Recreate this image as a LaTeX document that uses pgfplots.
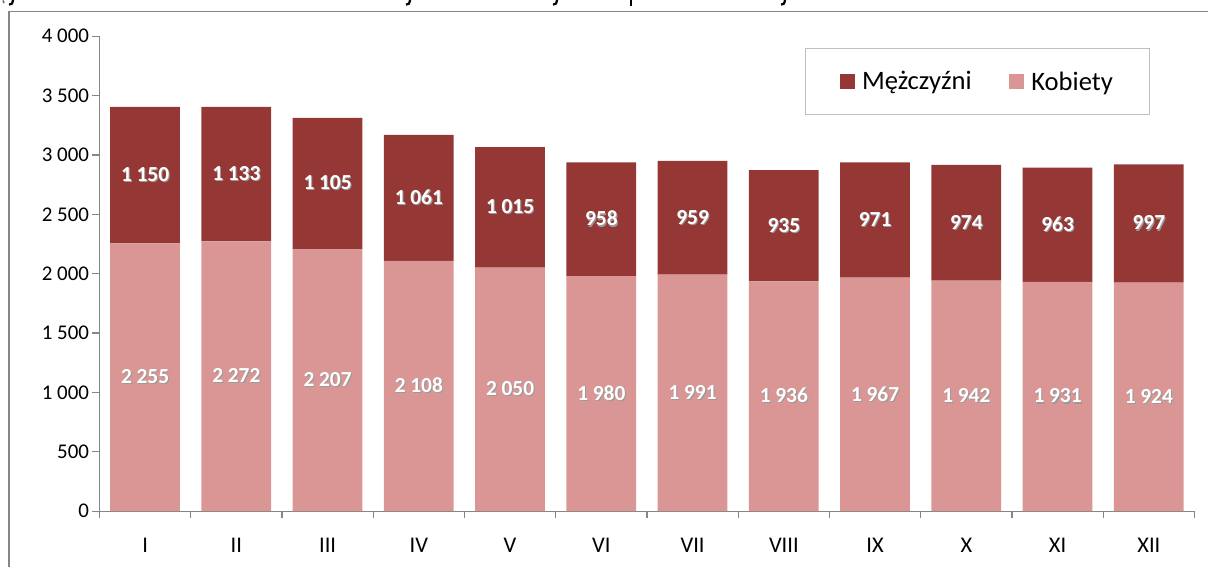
\documentclass[border=0pt]{standalone}
\usepackage{fontspec}
\setmainfont{Carlito}
\usepackage{pgfplots}
\pgfplotsset{compat=1.18}
\usepackage{pgfplotstable}
\definecolor{men}{HTML}{953735}
\definecolor{women}{HTML}{D99694}
\definecolor{axgray}{HTML}{868686}
\newcommand\shtext[1]{\rlap{\kern0.05em\raisebox{-0.05em}{\color{black!40}#1}}#1}
\pgfkeys{/pgf/number format/.cd,assume math mode=true,1000 sep={\kern0.22em}}

\pgfplotstableread{
x w m
0 2255 1150
1 2272 1133
2 2207 1105
3 2108 1061
4 2050 1015
5 1980 958
6 1991 959
7 1936 935
8 1967 971
9 1942 974
10 1931 963
11 1924 997
}\data

\begin{document}
\begin{tikzpicture}[x=1bp,y=1bp]
\draw[black, line width=2.2bp] (13,567) .. controls (12.5,563) and (11,562) .. (9,562.5);
\draw[black, line width=2.2bp] (410,567) .. controls (409.5,563) and (408,562) .. (406,562.5);
\draw[black, line width=2.2bp] (557,567) .. controls (556.5,563) and (555,562) .. (553,562.5);
\draw[black, line width=2.2bp] (785,567) .. controls (784.5,563) and (783,562) .. (781,562.5);
\draw[black, line width=2bp] (631,567) -- (631,561);
\draw[black!60, line width=1.5bp] (3,566.5) -- (4,564);
\draw[axgray, line width=1.6bp] (9,-5) -- (9,555.5) -- (1215,555.5);
\begin{axis}[
  at={(109,47)}, anchor=south west,
  scale only axis, width=1095bp, height=475bp,
  xmin=-0.5, xmax=11.5, ymin=0, ymax=4000,
  axis lines*=left,
  axis line style={axgray, line width=1.3pt},
  every tick/.style={axgray, line width=1.3pt},
  tick align=outside, major tick length=7pt,
  ytick={0,500,...,4000},
  xtick={-0.5,0.5,...,11.5}, xticklabels={},
  extra x ticks={0,...,11},
  extra x tick labels={I,II,III,IV,V,VI,VII,VIII,IX,X,XI,XII},
  extra x tick style={tick style={draw=none}, xticklabel style={yshift=-16pt, font=\fontsize{22.5}{26}\selectfont}},
  ticklabel style={font=\fontsize{21}{25}\selectfont},
  /pgf/number format/assume math mode=true,
  ybar stacked, bar width=70pt,
  reverse legend,
  legend columns=2,
  legend style={at={(axis description cs:0.644,0.975)}, anchor=north west,
    draw=black!25, line width=1.2pt, fill=white,
    font=\fontsize{26.7}{31}\selectfont,
    inner xsep=35pt, inner ysep=21pt,
    /tikz/every even column/.append style={column sep=36pt}},
  legend image code/.code={\fill[#1,draw=none] (0pt,-7pt) rectangle (15pt,8pt); \path (20pt,0pt);},
]
\addplot[fill=women, draw=none] table[x=x,y=w]{\data};
\addlegendentry{Kobiety}
\addplot[fill=men, draw=none] table[x=x,y=m]{\data};
\addlegendentry{Mężczyźni}
\end{axis}
\begin{axis}[
  at={(109,47)}, anchor=south west,
  scale only axis, width=1095bp, height=475bp,
  xmin=-0.5, xmax=11.5, ymin=0, ymax=4000,
  axis lines=none,
  nodes near coords={\shtext{\pgfmathprintnumber{\pgfplotspointmeta}}},
  every node near coord/.append style={anchor=center, text=white, font=\bfseries\fontsize{21.5}{25}\selectfont},
]
\addplot[only marks, mark=none, point meta=explicit] table[x=x, y expr=\thisrow{w}/2, meta=w]{\data};
\addplot[only marks, mark=none, point meta=explicit] table[x=x, y expr=\thisrow{w}+\thisrow{m}/2, meta=m]{\data};
\end{axis}
\pgfresetboundingbox
\useasboundingbox (0,0) rectangle (1208,567);
\end{tikzpicture}
\end{document}
